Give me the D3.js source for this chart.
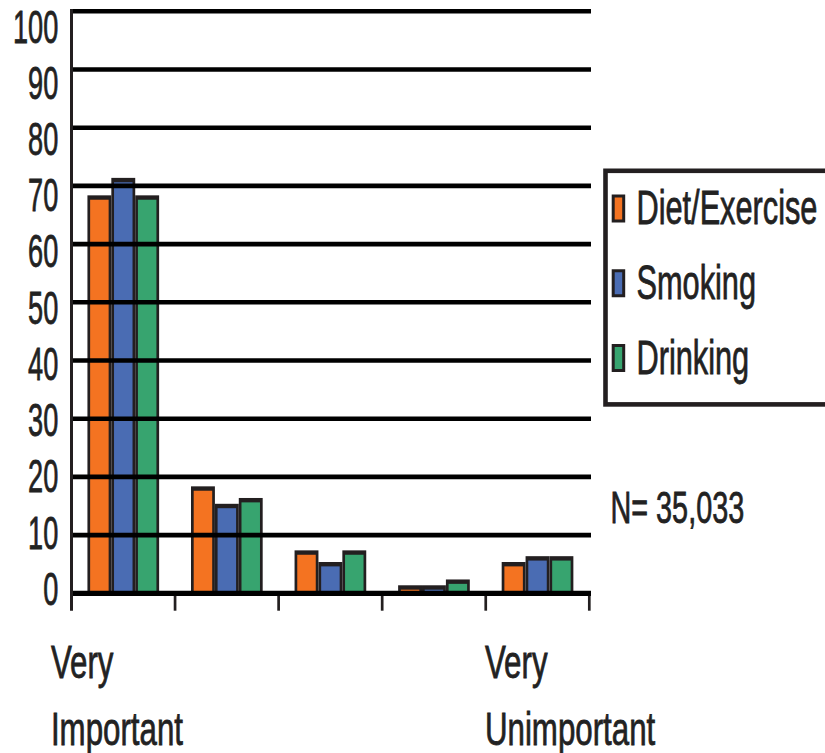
<!DOCTYPE html>
<html>
<head>
<meta charset="utf-8">
<script src="https://cdn.jsdelivr.net/npm/d3@7/dist/d3.min.js"></script>
<style>
  html, body { margin: 0; padding: 0; background: #fff; }
  svg { display: block; }
  text { font-family: "Liberation Sans", Arial, sans-serif; fill: #222; stroke: #222; stroke-width: 0.8px; }
</style>
</head>
<body>
<svg id="chart" width="825" height="753"></svg>
<script>
// Rating scale positions (1 = very important ... 5 = very unimportant)
const categories = ["1", "2", "3", "4", "5"];
const series = ["Diet/Exercise", "Smoking", "Drinking"];

// Percent of respondents per rating
const dietExercise = [68, 18, 7, 1, 5];
const smoking      = [71, 15, 5, 1, 6];
const drinking     = [68, 16, 7, 2, 6];

const yTicks = [0, 10, 20, 30, 40, 50, 60, 70, 80, 90, 100];
const endLabels = [["Very", "Important"], ["Very", "Unimportant"]];
const sampleNote = "N= 35,033";

const colors = { "Diet/Exercise": "#F47321", "Smoking": "#4A6CB3", "Drinking": "#37A46F" };
const outline = "#231F20";
const values = { "Diet/Exercise": dietExercise, "Smoking": smoking, "Drinking": drinking };

const svg = d3.select("#chart");

const y = d3.scaleLinear().domain([0, 100]).range([593.3, 11.3]);
// tick labels sit on their own slightly tighter ladder
const yLab = d3.scaleLinear().domain([0, 100]).range([y(0) - 5, y(100) + 14.7]);
const x0 = d3.scaleBand().domain(categories).range([71.5, 589.3]).paddingInner(0).paddingOuter(0);
const x1 = d3.scaleBand().domain(series).range([0, x0.bandwidth()]).paddingInner(0).paddingOuter(0.667);
const xRight = x0.range()[1];

// bars: dark outer block with an inset coloured fill
const bars = svg.append("g");
categories.forEach((c, i) => {
  series.forEach(s => {
    const v = values[s][i];
    const bx = x0(c) + x1(s), bw = x1.bandwidth();
    bars.append("rect")
      .attr("x", bx).attr("y", y(v) - 2.2)
      .attr("width", bw).attr("height", y(0) - y(v) + 2.2)
      .attr("fill", outline);
    const ih = Math.max(0, y(0) - y(v) - 2.2);
    bars.append("rect")
      .attr("x", bx + 2.7).attr("y", y(v) + 2.2)
      .attr("width", bw - 5.4).attr("height", ih)
      .attr("fill", colors[s]);
  });
});

// horizontal grid lines, drawn over the bars
svg.append("g").selectAll("line")
  .data(yTicks.filter(t => t > 0))
  .join("line")
  .attr("x1", x0.range()[0]).attr("x2", xRight + 1.7)
  .attr("y1", d => y(d)).attr("y2", d => y(d))
  .attr("stroke", "#000").attr("stroke-width", 4.6);

// baseline
svg.append("line")
  .attr("x1", x0.range()[0]).attr("x2", xRight + 1.7)
  .attr("y1", y(0)).attr("y2", y(0))
  .attr("stroke", "#000").attr("stroke-width", 5.3);

// vertical axis
svg.append("line")
  .attr("x1", x0.range()[0]).attr("x2", x0.range()[0])
  .attr("y1", 9).attr("y2", y(0) + 17.4)
  .attr("stroke", outline).attr("stroke-width", 3);

// category boundary ticks
const edges = categories.slice(1).map(c => x0(c)).concat([xRight]);
svg.append("g").selectAll("line")
  .data(edges)
  .join("line")
  .attr("x1", d => d).attr("x2", d => d)
  .attr("y1", y(0) + 2.6).attr("y2", y(0) + 17.4)
  .attr("stroke", outline).attr("stroke-width", 2.7);

// y tick labels (condensed)
svg.append("g").selectAll("text")
  .data(yTicks)
  .join("text")
  .attr("transform", d => `translate(58.3,${yLab(d) + 16.5}) scale(0.59,1)`)
  .attr("text-anchor", "end")
  .attr("font-size", 46)
  .text(d => d);

// end labels under the first and last rating
const endX = [x0(categories[0]) - 20.6, x0(categories[categories.length - 1]) - 0.8];
endLabels.forEach((lines, k) => {
  lines.forEach((t, j) => {
    svg.append("text")
      .attr("transform", `translate(${endX[k]},${678 + j * 67}) scale(0.68,1)`)
      .attr("font-size", 46)
      .text(t);
  });
});

// legend
const lg = svg.append("g");
lg.append("rect")
  .attr("x", 605.5).attr("y", 170.8)
  .attr("width", 300).attr("height", 233.6)
  .attr("fill", "#fff").attr("stroke", outline).attr("stroke-width", 4.6);
const ly = d3.scalePoint().domain(series).range([208.5, 358]);
series.forEach(s => {
  const cy = ly(s);
  lg.append("rect")
    .attr("x", 611.7).attr("y", cy - 14)
    .attr("width", 13.5).attr("height", 28)
    .attr("fill", outline);
  lg.append("rect")
    .attr("x", 614.7).attr("y", cy - 11)
    .attr("width", 7.5).attr("height", 22)
    .attr("fill", colors[s]);
  lg.append("text")
    .attr("transform", `translate(636.5,${cy + 15.5}) scale(0.64,1)`)
    .attr("font-size", 48)
    .text(s);
});

// sample size note
svg.append("text")
  .attr("transform", "translate(610.5,523.3) scale(0.64,1)")
  .attr("font-size", 45)
  .text(sampleNote);
</script>
</body>
</html>
